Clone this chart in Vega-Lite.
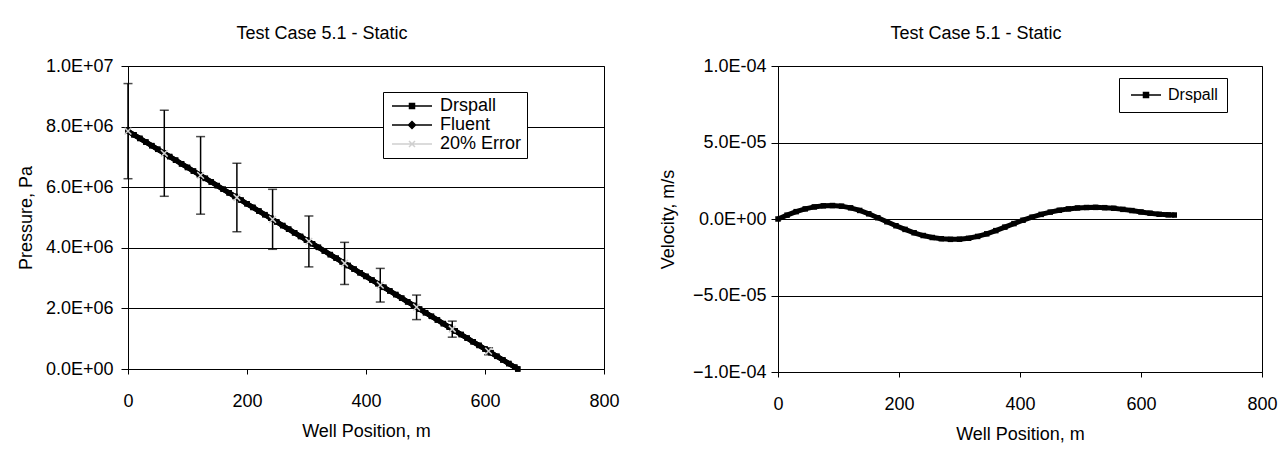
{
  "$schema": "https://vega.github.io/schema/vega-lite/v6.json",
  "background": "white",
  "padding": {"left": 16, "top": 24, "right": 5, "bottom": 5},
  "spacing": 38,
  "datasets": {
    "pressure": [
      {"x": 0, "Drspall": 7850000, "Fluent": 7850000},
      {"x": 10, "Drspall": 7730000, "Fluent": 7730000},
      {"x": 20, "Drspall": 7610000, "Fluent": 7610000},
      {"x": 30, "Drspall": 7490000, "Fluent": 7490000},
      {"x": 40, "Drspall": 7371000, "Fluent": 7371000},
      {"x": 50, "Drspall": 7251000, "Fluent": 7251000},
      {"x": 60, "Drspall": 7131000, "Fluent": 7131000},
      {"x": 70, "Drspall": 7011000, "Fluent": 7011000},
      {"x": 80, "Drspall": 6891000, "Fluent": 6891000},
      {"x": 90, "Drspall": 6771000, "Fluent": 6771000},
      {"x": 100, "Drspall": 6652000, "Fluent": 6652000},
      {"x": 110, "Drspall": 6532000, "Fluent": 6532000},
      {"x": 120, "Drspall": 6412000, "Fluent": 6412000},
      {"x": 130, "Drspall": 6292000, "Fluent": 6292000},
      {"x": 140, "Drspall": 6172000, "Fluent": 6172000},
      {"x": 150, "Drspall": 6052000, "Fluent": 6052000},
      {"x": 160, "Drspall": 5932000, "Fluent": 5932000},
      {"x": 170, "Drspall": 5813000, "Fluent": 5813000},
      {"x": 180, "Drspall": 5693000, "Fluent": 5693000},
      {"x": 190, "Drspall": 5573000, "Fluent": 5573000},
      {"x": 200, "Drspall": 5453000, "Fluent": 5453000},
      {"x": 210, "Drspall": 5333000, "Fluent": 5333000},
      {"x": 220, "Drspall": 5213000, "Fluent": 5213000},
      {"x": 230, "Drspall": 5093000, "Fluent": 5093000},
      {"x": 240, "Drspall": 4974000, "Fluent": 4974000},
      {"x": 250, "Drspall": 4854000, "Fluent": 4854000},
      {"x": 260, "Drspall": 4734000, "Fluent": 4734000},
      {"x": 270, "Drspall": 4614000, "Fluent": 4614000},
      {"x": 280, "Drspall": 4494000, "Fluent": 4494000},
      {"x": 290, "Drspall": 4374000, "Fluent": 4374000},
      {"x": 300, "Drspall": 4255000, "Fluent": 4255000},
      {"x": 310, "Drspall": 4135000, "Fluent": 4135000},
      {"x": 320, "Drspall": 4015000, "Fluent": 4015000},
      {"x": 330, "Drspall": 3895000, "Fluent": 3895000},
      {"x": 340, "Drspall": 3775000, "Fluent": 3775000},
      {"x": 350, "Drspall": 3655000, "Fluent": 3655000},
      {"x": 360, "Drspall": 3535000, "Fluent": 3535000},
      {"x": 370, "Drspall": 3416000, "Fluent": 3416000},
      {"x": 380, "Drspall": 3296000, "Fluent": 3296000},
      {"x": 390, "Drspall": 3176000, "Fluent": 3176000},
      {"x": 400, "Drspall": 3056000, "Fluent": 3056000},
      {"x": 410, "Drspall": 2936000, "Fluent": 2936000},
      {"x": 420, "Drspall": 2816000, "Fluent": 2816000},
      {"x": 430, "Drspall": 2696000, "Fluent": 2696000},
      {"x": 440, "Drspall": 2577000, "Fluent": 2577000},
      {"x": 450, "Drspall": 2457000, "Fluent": 2457000},
      {"x": 460, "Drspall": 2337000, "Fluent": 2337000},
      {"x": 470, "Drspall": 2217000, "Fluent": 2217000},
      {"x": 480, "Drspall": 2097000, "Fluent": 2097000},
      {"x": 490, "Drspall": 1977000, "Fluent": 1977000},
      {"x": 500, "Drspall": 1858000, "Fluent": 1858000},
      {"x": 510, "Drspall": 1738000, "Fluent": 1738000},
      {"x": 520, "Drspall": 1618000, "Fluent": 1618000},
      {"x": 530, "Drspall": 1498000, "Fluent": 1498000},
      {"x": 540, "Drspall": 1378000, "Fluent": 1378000},
      {"x": 550, "Drspall": 1258000, "Fluent": 1258000},
      {"x": 560, "Drspall": 1138000, "Fluent": 1138000},
      {"x": 570, "Drspall": 1019000, "Fluent": 1019000},
      {"x": 580, "Drspall": 899000, "Fluent": 899000},
      {"x": 590, "Drspall": 779000, "Fluent": 779000},
      {"x": 600, "Drspall": 659000, "Fluent": 659000},
      {"x": 610, "Drspall": 539000, "Fluent": 539000},
      {"x": 620, "Drspall": 419000, "Fluent": 419000},
      {"x": 630, "Drspall": 299000, "Fluent": 299000},
      {"x": 640, "Drspall": 180000, "Fluent": 180000},
      {"x": 650, "Drspall": 60000, "Fluent": 60000},
      {"x": 655, "Drspall": 0, "Fluent": 0}
    ],
    "err": [
      {"x": 0, "p": 7850000, "lo": 6280000, "hi": 9420000},
      {"x": 61, "p": 7120000, "lo": 5700000, "hi": 8540000},
      {"x": 122, "p": 6390000, "lo": 5110000, "hi": 7670000},
      {"x": 183, "p": 5660000, "lo": 4530000, "hi": 6790000},
      {"x": 243, "p": 4940000, "lo": 3950000, "hi": 5930000},
      {"x": 304, "p": 4210000, "lo": 3370000, "hi": 5050000},
      {"x": 364, "p": 3490000, "lo": 2790000, "hi": 4180000},
      {"x": 424, "p": 2770000, "lo": 2210000, "hi": 3320000},
      {"x": 485, "p": 2040000, "lo": 1630000, "hi": 2440000},
      {"x": 545, "p": 1320000, "lo": 1050000, "hi": 1580000},
      {"x": 606, "p": 590000, "lo": 470000, "hi": 700000}
    ],
    "vel": [
      {"x": 0, "v": 0},
      {"x": 15, "v": 2.5e-6},
      {"x": 30, "v": 4.8e-6},
      {"x": 45, "v": 6.6e-6},
      {"x": 60, "v": 7.9e-6},
      {"x": 75, "v": 8.6e-6},
      {"x": 90, "v": 8.8e-6},
      {"x": 105, "v": 8.4e-6},
      {"x": 120, "v": 7.3e-6},
      {"x": 135, "v": 5.6e-6},
      {"x": 150, "v": 3.4e-6},
      {"x": 165, "v": 0.8e-6},
      {"x": 180, "v": -1.8e-6},
      {"x": 195, "v": -4.4e-6},
      {"x": 210, "v": -6.8e-6},
      {"x": 225, "v": -9.0e-6},
      {"x": 240, "v": -10.8e-6},
      {"x": 255, "v": -12.1e-6},
      {"x": 270, "v": -12.9e-6},
      {"x": 285, "v": -13.3e-6},
      {"x": 300, "v": -13.2e-6},
      {"x": 315, "v": -12.6e-6},
      {"x": 330, "v": -11.4e-6},
      {"x": 345, "v": -9.7e-6},
      {"x": 360, "v": -7.6e-6},
      {"x": 375, "v": -5.3e-6},
      {"x": 390, "v": -3.0e-6},
      {"x": 405, "v": -0.8e-6},
      {"x": 420, "v": 1.2e-6},
      {"x": 435, "v": 3.0e-6},
      {"x": 450, "v": 4.5e-6},
      {"x": 465, "v": 5.7e-6},
      {"x": 480, "v": 6.6e-6},
      {"x": 495, "v": 7.2e-6},
      {"x": 510, "v": 7.5e-6},
      {"x": 525, "v": 7.6e-6},
      {"x": 540, "v": 7.4e-6},
      {"x": 555, "v": 7.0e-6},
      {"x": 570, "v": 6.3e-6},
      {"x": 585, "v": 5.5e-6},
      {"x": 600, "v": 4.6e-6},
      {"x": 615, "v": 3.8e-6},
      {"x": 630, "v": 3.1e-6},
      {"x": 645, "v": 2.7e-6},
      {"x": 655, "v": 2.6e-6}
    ]
  },
  "config": {
    "font": "Liberation Sans",
    "view": {"stroke": "black", "strokeWidth": 1},
    "axis": {
      "labelFont": "Liberation Sans",
      "titleFont": "Liberation Sans",
      "labelFontSize": 18,
      "titleFontSize": 18,
      "titleFontWeight": "normal",
      "labelColor": "black",
      "titleColor": "black",
      "domainColor": "black",
      "tickColor": "black",
      "gridColor": "black",
      "gridWidth": 1,
      "tickSize": 7,
      "labelFlush": false
    },
    "title": {"font": "Liberation Sans", "fontSize": 18, "fontWeight": "normal", "color": "black"},
    "legend": {"labelFont": "Liberation Sans", "labelColor": "black"}
  },
  "resolve": {"scale": {"color": "independent"}, "legend": {"color": "independent"}},
  "hconcat": [
    {
      "width": 476,
      "height": 303,
      "title": {"text": "Test Case 5.1 - Static", "anchor": "middle", "dx": -44, "offset": 14},
      "layer": [
        {
          "data": {"name": "pressure"},
          "transform": [{"fold": ["Drspall", "Fluent"], "as": ["series", "p"]}],
          "mark": {"type": "line", "strokeWidth": 5},
          "encoding": {
            "x": {"field": "x", "type": "quantitative", "title": "Well Position, m",
              "scale": {"domain": [0, 800], "nice": false},
              "axis": {"values": [0, 200, 400, 600, 800], "grid": false, "tickSize": 5, "labelPadding": 18, "titlePadding": 12}},
            "y": {"field": "p", "type": "quantitative", "title": "Pressure, Pa",
              "scale": {"domain": [0, 10000000], "nice": false},
              "axis": {"values": [0, 2000000, 4000000, 6000000, 8000000, 10000000], "labelPadding": 8, "titlePadding": 10,
                "labelExpr": "slice(replace(format(datum.value,'.1e'),'e','E'),0,-1)+'0'+slice(format(datum.value,'.1e'),-1)"}},
            "color": {"field": "series", "type": "nominal",
              "scale": {"domain": ["Drspall", "Fluent", "20% Error"], "range": ["black", "black", "#d0d0d0"]},
              "legend": {"title": null, "orient": "none", "legendX": 255, "legendY": 26, "padding": 5,
                "strokeColor": "black", "fillColor": "white", "labelFontSize": 18, "symbolSize": 100,
                "labelOffset": 34, "rowPadding": 1,
                "encode": {"symbols": {"update": {
                  "shape": {"signal": "datum.value === '20% Error' ? 'M-1,0H7M2.4,-0.6L3.6,0.6M2.4,0.6L3.6,-0.6' : datum.value === 'Fluent' ? 'M-1,0H7M3,-0.7L3.7,0L3,0.7L2.3,0Z' : 'M-1,0H7M2.5,-0.5H3.5V0.5H2.5Z'"},
                  "fill": {"signal": "datum.value === '20% Error' ? 'transparent' : 'black'"},
                  "stroke": {"signal": "datum.value === '20% Error' ? '#888888' : 'black'"},
                  "strokeWidth": {"value": 1.5},
                  "size": {"value": 100},
                  "opacity": {"value": 1}
                }}}}}
          }
        },
        {
          "data": {"name": "pressure"},
          "transform": [{"fold": ["Drspall", "Fluent"], "as": ["series", "p"]}],
          "mark": {"type": "point", "shape": "square", "filled": true, "size": 30, "opacity": 1},
          "encoding": {
            "x": {"field": "x", "type": "quantitative", "title": "Well Position, m"},
            "y": {"field": "p", "type": "quantitative", "title": "Pressure, Pa"},
            "color": {"field": "series", "type": "nominal"}
          }
        },
        {
          "data": {"name": "err"},
          "mark": {"type": "rule", "color": "black", "strokeWidth": 1.5},
          "encoding": {
            "x": {"field": "x", "type": "quantitative", "title": "Well Position, m"},
            "y": {"field": "lo", "type": "quantitative", "title": "Pressure, Pa"},
            "y2": {"field": "hi"}
          }
        },
        {
          "data": {"name": "err"},
          "mark": {"type": "tick", "orient": "horizontal", "color": "black", "size": 9, "thickness": 1.5},
          "encoding": {
            "x": {"field": "x", "type": "quantitative", "title": "Well Position, m"},
            "y": {"field": "lo", "type": "quantitative", "title": "Pressure, Pa"}
          }
        },
        {
          "data": {"name": "err"},
          "mark": {"type": "tick", "orient": "horizontal", "color": "black", "size": 9, "thickness": 1.5},
          "encoding": {
            "x": {"field": "x", "type": "quantitative", "title": "Well Position, m"},
            "y": {"field": "hi", "type": "quantitative", "title": "Pressure, Pa"}
          }
        },
        {
          "data": {"name": "err"},
          "mark": {"type": "point", "shape": "M-1,-1L1,1M-1,1L1,-1", "filled": false, "size": 45, "strokeWidth": 1.5, "opacity": 1},
          "encoding": {
            "x": {"field": "x", "type": "quantitative", "title": "Well Position, m"},
            "y": {"field": "p", "type": "quantitative", "title": "Pressure, Pa"},
            "color": {"datum": "20% Error", "type": "nominal"}
          }
        }
      ]
    },
    {
      "width": 484,
      "height": 306,
      "title": {"text": "Test Case 5.1 - Static", "anchor": "middle", "dx": -44, "offset": 14},
      "data": {"name": "vel"},
      "encoding": {
        "x": {"field": "x", "type": "quantitative", "title": "Well Position, m",
          "scale": {"domain": [0, 800], "nice": false},
          "axis": {"values": [0, 200, 400, 600, 800], "grid": false, "tickSize": 5, "labelPadding": 18, "titlePadding": 12}},
        "y": {"field": "v", "type": "quantitative", "title": "Velocity, m/s",
          "scale": {"domain": [-0.0001, 0.0001], "nice": false},
          "axis": {"values": [-0.0001, -0.00005, 0, 0.00005, 0.0001], "labelPadding": 5, "titlePadding": 15,
            "labelExpr": "slice(replace(format(datum.value,'.1e'),'e','E'),0,-1)+'0'+slice(format(datum.value,'.1e'),-1)"}},
        "color": {"datum": "Drspall", "type": "nominal",
          "scale": {"domain": ["Drspall"], "range": ["black"]},
          "legend": {"title": null, "orient": "none", "legendX": 341, "legendY": 12, "padding": 9,
            "strokeColor": "black", "fillColor": "white", "labelFontSize": 16, "symbolSize": 100,
            "labelOffset": 24,
            "encode": {"symbols": {"update": {
              "shape": {"value": "M-1,0H5M1.5,-0.5H2.5V0.5H1.5Z"},
              "fill": {"value": "black"},
              "stroke": {"value": "black"},
              "strokeWidth": {"value": 1.5},
              "size": {"value": 100},
              "opacity": {"value": 1}
            }}}}}
      },
      "layer": [
        {"mark": {"type": "line", "strokeWidth": 5}},
        {"mark": {"type": "point", "shape": "square", "filled": true, "size": 30, "opacity": 1}}
      ]
    }
  ]
}
